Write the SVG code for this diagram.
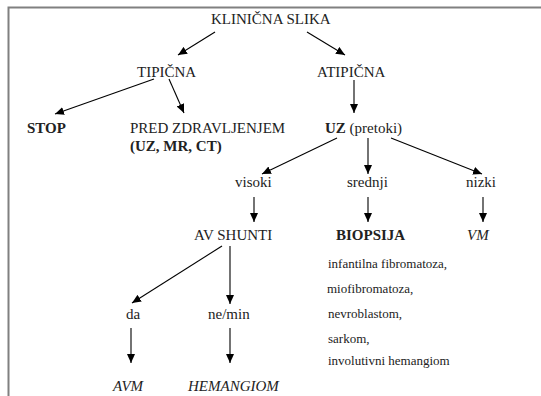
<svg xmlns="http://www.w3.org/2000/svg" width="541" height="396" viewBox="0 0 541 396">
<style>
.t text{font-size:15px;fill:#222}
.b{font-weight:bold}
.i{font-style:italic}
.t .s{font-size:13px}
.c line{stroke:#000;stroke-width:1.1;marker-end:url(#ah)}
</style>
<defs>
<marker id="ah" markerUnits="userSpaceOnUse" markerWidth="9" markerHeight="8" refX="9" refY="4" orient="auto">
<path d="M0,0 L9,4 L0,8 z" fill="#000"/>
</marker>
</defs>
<rect width="541" height="396" fill="#fff"/>
<path d="M8.5,396 V7.5 H541" fill="none" stroke="#808080" stroke-width="2"/>
<g class="c">
<line x1="215" y1="32" x2="178" y2="55"/>
<line x1="307" y1="32" x2="345" y2="55"/>
<line x1="154" y1="79" x2="55" y2="114"/>
<line x1="169" y1="79" x2="184" y2="113"/>
<line x1="354" y1="80" x2="354" y2="113"/>
<line x1="337" y1="138" x2="262" y2="174"/>
<line x1="368" y1="138" x2="368" y2="174"/>
<line x1="391" y1="138" x2="482" y2="174"/>
<line x1="254" y1="197" x2="254" y2="222"/>
<line x1="368" y1="197" x2="368" y2="222"/>
<line x1="483" y1="197" x2="483" y2="222"/>
<line x1="222" y1="246" x2="132" y2="303"/>
<line x1="230" y1="246" x2="230" y2="304"/>
<line x1="131" y1="328" x2="131" y2="363"/>
<line x1="230" y1="328" x2="230" y2="363"/>
</g>
<g class="t" font-family="Liberation Serif, serif">
<g id="klinicna"><text x="211" y="24">KLINIČNA SLIKA</text></g>
<g id="tipicna"><text x="137" y="77">TIPIČNA</text></g>
<g id="atipicna"><text x="317" y="77">ATIPIČNA</text></g>
<g id="stop"><text class="b" x="27" y="133">STOP</text></g>
<g id="pred"><text x="130" y="133">PRED ZDRAVLJENJEM</text><text class="b" x="130" y="151">(UZ, MR, CT)</text></g>
<g id="uz"><text x="325" y="133"><tspan class="b">UZ</tspan> (pretoki)</text></g>
<g id="visoki"><text x="235" y="187">visoki</text></g>
<g id="srednji"><text x="347" y="187">srednji</text></g>
<g id="nizki"><text x="466" y="187">nizki</text></g>
<g id="avshunti"><text x="194" y="240">AV SHUNTI</text></g>
<g id="biopsija"><text class="b" x="336" y="240">BIOPSIJA</text>
<text class="s" x="328" y="268">infantilna fibromatoza,</text>
<text class="s" x="327" y="293">miofibromatoza,</text>
<text class="s" x="328" y="318">nevroblastom,</text>
<text class="s" x="328" y="343">sarkom,</text>
<text class="s" x="328" y="365">involutivni hemangiom</text></g>
<g id="vm"><text class="i" x="467" y="240">VM</text></g>
<g id="da"><text x="126" y="319">da</text></g>
<g id="nemin"><text x="208" y="319">ne/min</text></g>
<g id="avm"><text class="i" x="113" y="391">AVM</text></g>
<g id="hemangiom"><text class="i" x="188" y="391">HEMANGIOM</text></g>
</g>
</svg>
